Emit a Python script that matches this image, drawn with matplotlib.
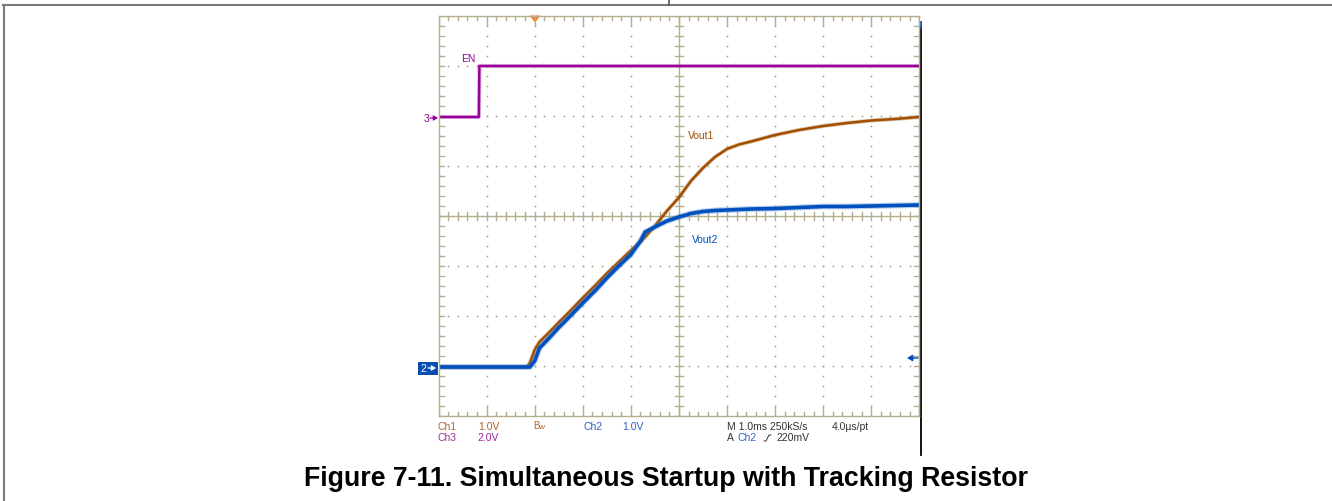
import numpy as np
import matplotlib
matplotlib.use("Agg")
import matplotlib.pyplot as plt
from matplotlib.patches import Rectangle, Polygon

# ---- captured waveforms (time in ms, trigger at t = 0, 1.0 ms/div) ----
time_ms = [-2.0, -0.16, -0.1, 0.0, 0.1, 0.3, 0.5, 0.75, 1.0, 1.25, 1.5, 1.75,
           2.0, 2.2, 2.3, 2.5, 2.75, 3.0, 3.25, 3.5, 3.75, 4.0, 4.25, 4.5, 5.0,
           5.5, 6.0, 6.5, 7.0, 7.5, 8.0]
vout1_v = [0.0, 0.0, 0.08, 0.34, 0.50, 0.69, 0.89, 1.13, 1.38, 1.62, 1.87, 2.10,
           2.33, 2.50, 2.60, 2.82, 3.12, 3.39, 3.72, 3.98, 4.20, 4.36, 4.45, 4.51,
           4.64, 4.74, 4.82, 4.88, 4.93, 4.96, 5.00]
vout2_v = [0.0, 0.0, 0.0, 0.12, 0.38, 0.58, 0.79, 1.03, 1.28, 1.52, 1.78, 2.02,
           2.25, 2.52, 2.70, 2.80, 2.92, 3.00, 3.07, 3.11, 3.13, 3.14, 3.15, 3.16,
           3.17, 3.19, 3.21, 3.21, 3.22, 3.23, 3.24]
en_time_ms = [-2.0, -1.16, -1.15, 8.0]
en_v = [0.0, 0.0, 2.04, 2.04]

# channel settings: volts per division and ground-marker offset (divisions)
ch1_scale, ch2_scale, ch3_scale = 1.0, 1.0, 2.0
ch12_offset = -3.02
ch3_offset = 1.98

trace_labels = ["EN", "Vout1", "Vout2"]
caption = "Figure 7-11. Simultaneous Startup with Tracking Resistor"

C_EN = "#990099"
C_V1 = "#A04E00"
C_V2 = "#0050BE"
C_GRID = "#B3AE8E"
C_DOT = "#A29C7A"

W, H = 1332, 501
fig = plt.figure(figsize=(W / 100, H / 100), dpi=100)

# page overlay in pixel coordinates
pa = fig.add_axes([0, 0, 1, 1], zorder=0)
pa.set_xlim(0, W)
pa.set_ylim(H, 0)
pa.axis("off")

# scope screen
L, R, T, B = 438.5, 919.3, 16.0, 416.0
ax = fig.add_axes([L / W, (H - B) / H, (R - L) / W, (B - T) / H], zorder=1)
ax.set_xlim(-2, 8)
ax.set_ylim(-4, 4)
ax.set_facecolor("none")
ax.set_xticks([])
ax.set_yticks([])
for s in ax.spines.values():
    s.set_color(C_GRID)
    s.set_linewidth(1.0)

px_x = 10.0 / (R - L)   # ms per pixel
px_y = 8.0 / (B - T)    # div per pixel

# dotted graticule
minor_x = np.arange(-2, 8.001, 0.2)
minor_y = np.arange(-4, 4.001, 0.2)
for gx in [-1, 0, 1, 2, 4, 5, 6, 7]:
    ax.plot(np.full_like(minor_y, gx), minor_y, ls="none", marker="s",
            ms=1.1, mec="none", mfc=C_DOT)
for gy in [-3, -2, -1, 1, 2, 3]:
    ax.plot(minor_x, np.full_like(minor_x, gy), ls="none", marker="s",
            ms=1.1, mec="none", mfc=C_DOT)

# center cross with ticks
ax.axvline(3, color=C_GRID, lw=1.0)
ax.axhline(0, color=C_GRID, lw=1.0)
for yy in minor_y:
    ax.plot([3 - 4 * px_x, 3 + 4 * px_x], [yy, yy], color=C_GRID, lw=1.0)
for xx in minor_x:
    ax.plot([xx, xx], [-4 * px_y, 4 * px_y], color=C_GRID, lw=1.0)

# edge ticks
for xx in minor_x:
    major = abs(xx - round(xx)) < 1e-6
    ln = (9 if major else 4) * px_y
    ax.plot([xx, xx], [4, 4 - ln], color=C_GRID, lw=1.0)
    ax.plot([xx, xx], [-4, -4 + ln], color=C_GRID, lw=1.0)
for yy in minor_y:
    ax.plot([-2, -2 + 5 * px_x], [yy, yy], color=C_GRID, lw=1.0)
    ax.plot([8, 8 - 5 * px_x], [yy, yy], color=C_GRID, lw=1.0)

# traces
t = np.array(time_ms)
v1 = np.array(vout1_v) / ch1_scale + ch12_offset
v2 = np.array(vout2_v) / ch2_scale + ch12_offset
ven = np.array(en_v) / ch3_scale + ch3_offset

ax.plot(t, v1, color=C_V1, lw=3.0, alpha=0.3, solid_capstyle="butt")
ax.plot(t, v1, color=C_V1, lw=1.8)
ax.plot(t, v2, color="#4A86D8", lw=4.2, alpha=0.4, solid_capstyle="butt")
ax.plot(t, v2, color=C_V2, lw=2.6)
ax.plot(en_time_ms, ven, color=C_EN, lw=3.0, alpha=0.25)
ax.plot(en_time_ms, ven, color=C_EN, lw=1.8)

# ---- page frame ----
pa.plot([3, W], [5, 5], color="#7A7A7A", lw=1.5)
pa.plot([4, 4], [5, H], color="#7A7A7A", lw=1.5)
pa.plot([669, 669], [0, 5], color="#555555", lw=1.2)

# screen right border
pa.plot([920.5, 920.5], [27, 455], color="black", lw=1.3)
pa.plot([920.5, 920.5], [22, 28], color=C_V2, lw=1.3)

# trigger position marker
pa.add_patch(Polygon([[529.5, 15.5], [540.5, 15.5], [535, 22.5]], closed=True,
                     fc="#FF7A22", ec="none", zorder=3))

# channel ground markers
scope_font = "Liberation Sans"
pa.text(427, 118.5, "3", color=C_EN, fontsize=7.5, family=scope_font,
        ha="center", va="center")
pa.annotate("", xy=(438, 118), xytext=(430, 118),
            arrowprops=dict(arrowstyle="-|>,head_length=0.25,head_width=0.15",
                            color=C_EN, lw=0.9, shrinkA=0, shrinkB=0))
pa.add_patch(Rectangle((418, 362), 20, 12.5, fc="#0A4FB0", ec="none", zorder=3))
pa.text(423.5, 368.5, "2", color="white", fontsize=7.5, family=scope_font,
        ha="center", va="center", zorder=4)
pa.annotate("", xy=(436, 368), xytext=(428, 368),
            arrowprops=dict(arrowstyle="-|>,head_length=0.25,head_width=0.15",
                            color="white", lw=0.9, shrinkA=0, shrinkB=0),
            zorder=4)
# trigger level marker on right edge
pa.annotate("", xy=(907, 358), xytext=(918, 358),
            arrowprops=dict(arrowstyle="-|>,head_length=0.3,head_width=0.18",
                            color=C_V2, lw=1.1, shrinkA=0, shrinkB=0))

# trace labels
pa.text(461, 58.5, trace_labels[0], color=C_EN, fontsize=7.5, family=scope_font,
        va="center")
pa.text(688, 136, trace_labels[1], color=C_V1, fontsize=7.5, family=scope_font,
        va="center")
pa.text(692, 240, trace_labels[2], color=C_V2, fontsize=7.5, family=scope_font,
        va="center")

# readout lines under the screen
fs = 7.5
cb = "#B0642A"
cp = "#A02AA0"
cbl = "#2A62C2"
cg = "#333333"
r1, r2 = 426.5, 438
pa.text(438, r1, "Ch1", color=cb, fontsize=fs, family=scope_font, va="center")
pa.text(478, r1, "1.0V", color=cb, fontsize=fs, family=scope_font, va="center")
pa.text(533, r1 - 0.5, "B", color=cb, fontsize=fs - 0.5, family=scope_font, va="center")
pa.text(538.5, r1 + 1, "w", color=cb, fontsize=fs - 1.5, family=scope_font, va="center")
pa.text(583, r1, "Ch2", color=cbl, fontsize=fs, family=scope_font, va="center")
pa.text(622, r1, "1.0V", color=cbl, fontsize=fs, family=scope_font, va="center")
pa.text(727, r1, "M 1.0ms 250kS/s", color=cg, fontsize=fs, family=scope_font, va="center")
pa.text(832, r1, "4.0\u00b5s/pt", color=cg, fontsize=fs, family=scope_font, va="center")
pa.text(438, r2, "Ch3", color=cp, fontsize=fs, family=scope_font, va="center")
pa.text(477, r2, "2.0V", color=cp, fontsize=fs, family=scope_font, va="center")
pa.text(727, r2, "A", color=cg, fontsize=fs, family=scope_font, va="center")
pa.text(738, r2, "Ch2", color=cbl, fontsize=fs, family=scope_font, va="center")
pa.plot([764, 766, 769, 771], [441, 441, 435, 435], color=cg, lw=0.7)
pa.text(776, r2, "220mV", color=cg, fontsize=fs, family=scope_font, va="center")

# caption
pa.text(666.5, 479.5, caption, color="black", fontsize=19.3, fontweight="bold",
        family="Liberation Sans", ha="center", va="center")

fig.savefig("out.png", dpi=100)
